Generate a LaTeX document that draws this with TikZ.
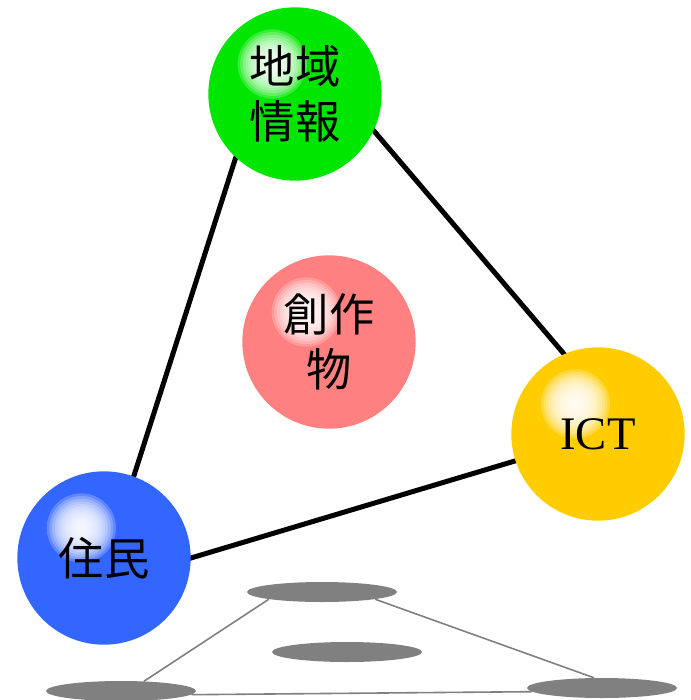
\documentclass[tikz,border=0pt]{standalone}
\usepackage{fontspec}
\newfontfamily\cjkfont{Noto Sans CJK JP}
\newfontfamily\romanfont{Liberation Serif}
\usepackage{tikz}
\usetikzlibrary{shapes,backgrounds}
\usetikzlibrary{positioning}

\definecolor{areagreen}{RGB}{0,230,0}
\definecolor{workpink}{RGB}{255,128,128}
\definecolor{ictyellow}{RGB}{255,204,0}
\definecolor{peopleblue}{RGB}{51,102,255}
\definecolor{floorgray}{RGB}{128,128,128}

\tikzset{
  sphere/.style={circle, fill=#1, minimum size=130pt, inner sep=0pt, align=center,
    font=\cjkfont\fontsize{34}{41}\selectfont,
    path picture={
      \foreach \r in {26,24,...,2}
        \fill[white, opacity=0.22] ([shift={(-17pt,22.5pt)}]path picture bounding box.center) circle (\r pt);}},
  footprint/.style={ellipse, fill=floorgray, minimum width=112.5pt, minimum height=15pt, inner sep=0pt},
  link/.style={line width=3.75pt, shorten <=-3pt, shorten >=-3pt},
  trace/.style={floorgray, line width=1.2pt},
}

\begin{document}
\begin{tikzpicture}[node distance=1pt, on grid]
        \useasboundingbox (0,0) rectangle (517.5pt,-525pt);
        \node[sphere=areagreen] (area) at (221.25pt,-70.5pt) {地域\\情報};
        \node[sphere=workpink] (work) [below right=186pt and 25.5pt of area] {創作\\物};
        \node[sphere=ictyellow, font=\romanfont\fontsize{35}{40}\selectfont] (ict) [below right=255pt and 227.25pt of area] {ICT};
        \node[sphere=peopleblue] (people) [below left=348pt and 143.25pt of area] {住民};
        \node[footprint] (sarea) [below right=373.5pt and 20.25pt of area] {};
        \node[footprint] (swork) [below right=232.5pt and 13.5pt of work] {};
        \node[footprint] (sict) [below right=190.5pt and 3pt of ict] {};
        \node[footprint] (speople) [below right=99.75pt and 12.75pt of people] {};
        \begin{scope}[on background layer]
        \draw[link] (area.227) -- (people.70);
        \draw[link] (area.-25) -- (ict.113);
        \draw[link] (people.0) -- (ict.198);
        \draw[trace] (sarea.south west) -- (speople.23);
        \draw[trace] (sarea.south east) -- (sict.128);
        \draw[trace] (speople.-3) -- (sict.183);
        \end{scope}
    \end{tikzpicture}
\end{document}
